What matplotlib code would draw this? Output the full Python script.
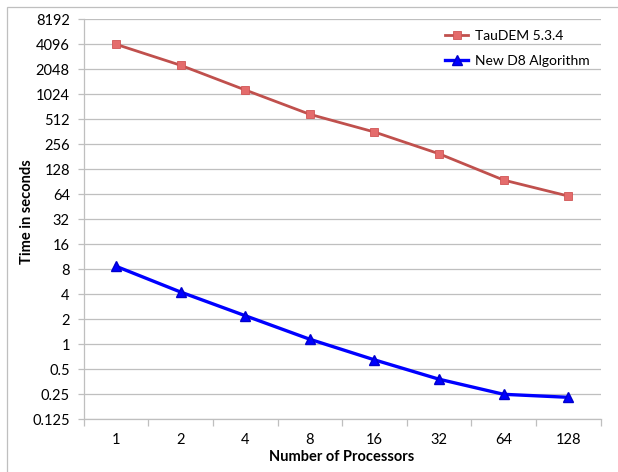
import matplotlib
matplotlib.use("Agg")
import matplotlib.pyplot as plt
from matplotlib.patches import Rectangle
from matplotlib.ticker import FixedLocator, FixedFormatter, NullFormatter

plt.rcParams['font.family'] = ['Lato', 'DejaVu Sans']

processors = ["1", "2", "4", "8", "16", "32", "64", "128"]
taudem = [4096, 2290, 1155, 588, 360, 197, 95, 61]
new_d8 = [8.7, 4.26, 2.21, 1.15, 0.65, 0.38, 0.25, 0.23]
y_ticks = [0.125, 0.25, 0.5, 1, 2, 4, 8, 16, 32, 64, 128, 256, 512, 1024, 2048, 4096, 8192]
y_labels = ["0.125", "0.25", "0.5", "1", "2", "4", "8", "16", "32", "64", "128", "256",
            "512", "1024", "2048", "4096", "8192"]

W, H = 618, 472
x0, x1, y0, y1 = 83.7, 600.5, 19.3, 419.3
fig = plt.figure(figsize=(W / 100, H / 100), dpi=100)
ax = fig.add_axes([x0 / W, 1 - y1 / H, (x1 - x0) / W, (y1 - y0) / H])

x = list(range(len(processors)))
ax.plot(x, taudem, color="#C0504D", lw=2.0, marker="s", markersize=6,
        markerfacecolor="#E46C6C", markeredgecolor="#D05555", markeredgewidth=0.6,
        label="TauDEM 5.3.4", zorder=3)
ax.plot(x, new_d8, color="#0000FF", lw=2.4, marker="^", markersize=6.5,
        markerfacecolor="#0000FF", markeredgecolor="#0000CC",
        label="New D8 Algorithm", zorder=3)

ax.set_yscale("log", base=2)
ax.set_ylim(0.125, 8192)
ax.yaxis.set_major_locator(FixedLocator(y_ticks))
ax.yaxis.set_major_formatter(FixedFormatter(y_labels))
ax.yaxis.set_minor_formatter(NullFormatter())
ax.yaxis.set_minor_locator(FixedLocator([]))
ax.grid(axis="y", color="#BFBFBF", lw=0.9)
ax.set_axisbelow(True)

ax.set_xlim(-0.5, len(processors) - 0.5)
ax.set_xticks(x)
ax.set_xticklabels(processors)
ax.set_xticks([i - 0.5 for i in range(len(processors) + 1)], minor=True)
ax.tick_params(axis="x", which="major", length=0, pad=10, labelsize=10.5)
ax.tick_params(axis="x", which="minor", length=5, color="#BFBFBF", width=0.9)
ax.tick_params(axis="y", which="major", length=4, color="#BFBFBF", width=0.9,
               labelsize=10.5, pad=6)

for s in ("top", "right"):
    ax.spines[s].set_visible(False)
for s in ("left", "bottom"):
    ax.spines[s].set_color("#BFBFBF")
    ax.spines[s].set_linewidth(0.9)

ax.set_xlabel("Number of Processors", fontweight="bold", fontsize=10.5)
ax.set_ylabel("Time in seconds", fontweight="bold", fontsize=10.5)
ax.xaxis.set_label_coords((342 - x0) / (x1 - x0), (y1 - 457) / (y1 - y0))
ax.yaxis.set_label_coords((27 - x0) / (x1 - x0), (y1 - 212) / (y1 - y0))
ax.xaxis.label.set_verticalalignment("center")
ax.yaxis.label.set_verticalalignment("center")

leg = ax.legend(loc="upper left", bbox_to_anchor=(433 / W, 1 - 17 / H),
                bbox_transform=fig.transFigure, frameon=False, fontsize=10,
                handlelength=1.6, handletextpad=0.5, labelspacing=0.98)

fig.patches.append(Rectangle((6.5 / W, -0.1), 1.2, 1 - 6.5 / H + 0.1, transform=fig.transFigure,
                             fill=False, edgecolor="#BFBFBF", lw=0.9))

fig.savefig("out.png", dpi=100)
